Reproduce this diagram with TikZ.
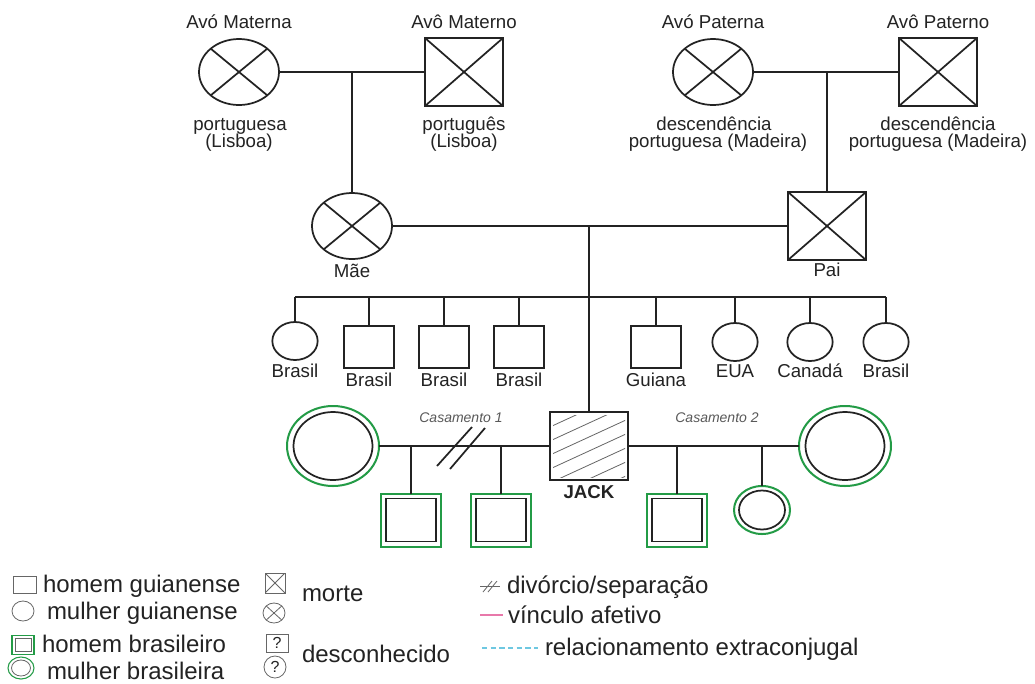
\documentclass[tikz,border=0pt]{standalone}
\usepackage{fontspec}
\setmainfont{Liberation Sans}
\usetikzlibrary{shapes.geometric,calc}
\definecolor{grn}{RGB}{35,155,70}
\definecolor{pinkl}{RGB}{232,120,170}
\definecolor{cyanl}{RGB}{110,200,225}
\definecolor{ink}{RGB}{35,35,35}
\begin{document}
\begin{tikzpicture}[x=0.75pt,y=-0.75pt,
  every node/.style={inner sep=0pt, outer sep=0pt, text=ink},
  lbl/.style={font=\fontsize{14}{16}\selectfont, anchor=base},
  leg/.style={font=\fontsize{18}{20}\selectfont, anchor=base west},
  cas/.style={font=\fontsize{10.5}{12}\selectfont\itshape, text=black!65, anchor=base},
  ln/.style={draw=ink, line width=1.3pt},
  thin/.style={draw=black!60, line width=0.6pt},
  bigF/.style={ellipse, ln, minimum width=60pt, minimum height=49.5pt},
  bigM/.style={rectangle, ln, minimum width=58.5pt, minimum height=51pt},
  smF/.style={ellipse, ln, minimum width=34pt, minimum height=28.5pt},
  smM/.style={rectangle, ln, minimum width=37.5pt, minimum height=31.5pt},
  dead/.style={path picture={\draw[ink,line width=1.3pt]
     (path picture bounding box.north west) -- (path picture bounding box.south east)
     (path picture bounding box.north east) -- (path picture bounding box.south west);}},
  thindead/.style={path picture={\draw[black!60,line width=0.6pt]
     (path picture bounding box.north west) -- (path picture bounding box.south east)
     (path picture bounding box.north east) -- (path picture bounding box.south west);}},
  bwO/.style={ellipse, draw=grn, line width=1.5pt, minimum width=69pt, minimum height=60pt},
  bwI/.style={ellipse, ln, minimum width=59.25pt, minimum height=51pt},
  bmO/.style={rectangle, draw=grn, line width=1.5pt, minimum width=45pt, minimum height=39.75pt},
  bmI/.style={rectangle, ln, minimum width=37.5pt, minimum height=32.25pt},
  bdO/.style={ellipse, draw=grn, line width=1.5pt, minimum width=42pt, minimum height=36pt},
  bdI/.style={ellipse, ln, minimum width=34.5pt, minimum height=29.25pt}
]
\fill[white] (0,0) rectangle (1035,683);
\useasboundingbox (0,0) rectangle (1035,683);

% grandparents
\node[bigF,dead] (avoMa) at (239,72) {};
\node[bigM,dead] (avoMo) at (464,72) {};
\node[bigF,dead] (avoPa) at (713,72) {};
\node[bigM,dead] (avoPo) at (938,72) {};
\node[lbl] (tAvoMa) at (239,28) {Avó Materna};
\node[lbl] (tAvoMo) at (464,28) {Avô Materno};
\node[lbl] (tAvoPa) at (713,28) {Avó Paterna};
\node[lbl] (tAvoPo) at (938,28) {Avô Paterno};
\node[lbl] (oAvoMa1) at (240,130) {portuguesa};
\node[lbl] (oAvoMa2) at (239,147) {(Lisboa)};
\node[lbl] (oAvoMo1) at (464,130) {português};
\node[lbl] (oAvoMo2) at (464,147) {(Lisboa)};
\node[lbl] (oAvoPa1) at (714,130) {descendência};
\node[lbl] (oAvoPa2) at (718,147) {portuguesa (Madeira)};
\node[lbl] (oAvoPo1) at (938,130) {descendência};
\node[lbl] (oAvoPo2) at (938,147) {portuguesa (Madeira)};

% parents
\node[bigF,dead] (mae) at (352,226) {};
\node[bigM,dead] (pai) at (827,226) {};
\node[lbl] (tMae) at (352,277) {Mãe};
\node[lbl] (tPai) at (827,276) {Pai};

\draw[ln] (avoMa) -- (avoMo);
\coordinate (jm) at (352,72);
\draw[ln] (jm) -- (mae);
\draw[ln] (avoPa) -- (avoPo);
\coordinate (jp) at (827,72);
\draw[ln] (jp) -- (pai);

% siblings
\node[smF] (s1) at (295,341) {};
\node[smM] (s2) at (369,347) {};
\node[smM] (s3) at (444,347) {};
\node[smM] (s4) at (519,347) {};
\node[smM] (s5) at (656,347) {};
\node[smF] (s6) at (735,342) {};
\node[smF] (s7) at (810,342) {};
\node[smF] (s8) at (886,342) {};
\node[lbl] (t1) at (295,377) {Brasil};
\node[lbl] (t2) at (369,386) {Brasil};
\node[lbl] (t3) at (444,386) {Brasil};
\node[lbl] (t4) at (519,386) {Brasil};
\node[lbl] (t5) at (656,386) {Guiana};
\node[lbl] (t6) at (735,377) {EUA};
\node[lbl] (t7) at (810,377) {Canadá};
\node[lbl] (t8) at (886,377) {Brasil};

% Jack
\node[bigM] (jack) at (589,446) {};
\begin{scope}
  \clip ($(jack.south west)+(3,-3)$) rectangle ($(jack.north east)+(-3,3)$);
  \foreach \k in {-5,...,6}
    \draw[black!60, line width=0.6pt] ($(jack.center)+(-50,\k*14)$) -- ++(100,-46);
\end{scope}
\node[lbl, font=\fontsize{14}{16}\selectfont\bfseries] (tJack) at (589,498) {JACK};

\draw[ln] (mae) -- (pai);
\coordinate (jc) at (589,226);
\draw[ln] (jc) -- (jack);
\coordinate (sbL) at (295,297);
\coordinate (sbR) at (886,297);
\draw[ln] (sbL) -- (sbR);
\foreach \s in {s1,s2,s3,s4,s5,s6,s7,s8}
  \draw[ln] (\s |- sbL) -- (\s);

% wives and children
\node[bwO] (w1) at (333,446) {};
\node[bwI] (w1i) at (333,446) {};
\node[bwO] (w2) at (845,446) {};
\node[bwI] (w2i) at (845,446) {};
\node[bmO] (c1) at (411,520) {};
\node[bmI] (c1i) at (411,520) {};
\node[bmO] (c2) at (501,520) {};
\node[bmI] (c2i) at (501,520) {};
\node[bmO] (c3) at (677,520) {};
\node[bmI] (c3i) at (677,520) {};
\node[bdO] (d1) at (762,510) {};
\node[bdI] (d1i) at (762,510) {};

\draw[ln] (w1) -- (jack);
\draw[ln] (jack) -- (w2);
\draw[ln] (c1 |- jack) -- (c1);
\draw[ln] (c2 |- jack) -- (c2);
\draw[ln] (c3 |- jack) -- (c3);
\draw[ln] (d1 |- jack) -- (d1);

\coordinate (dv) at (461,447);
\draw[ln] ($(dv)+(-24,19)$) -- ($(dv)+(11,-20)$);
\draw[ln] ($(dv)+(-11,22)$) -- ($(dv)+(24,-19)$);

\node[cas] (cas1) at (461,422) {Casamento 1};
\node[cas] (cas2) at (717,422) {Casamento 2};

% legend
\node[thin, minimum width=17.25pt, minimum height=12.75pt] (lgM) at (24.5,585) {};
\node[leg] (lgMt) at (43,592) {homem guianense};
\node[thin, ellipse, minimum width=16.5pt, minimum height=15pt] (lgF) at (23,611) {};
\node[leg] (lgFt) at (47,619) {mulher guianense};
\node[draw=grn, line width=0.8pt, minimum width=16.5pt, minimum height=14.25pt] (lgBM) at (23,645) {};
\node[thin, minimum width=12pt, minimum height=9.75pt] (lgBMi) at (23,645) {};
\node[leg] (lgBMt) at (42,652) {homem brasileiro};
\node[ellipse, draw=grn, line width=0.8pt, minimum width=19.5pt, minimum height=16.5pt] (lgBF) at (21,668) {};
\node[thin, ellipse, minimum width=14.25pt, minimum height=12pt] (lgBFi) at (21,668) {};
\node[leg] (lgBFt) at (47,679) {mulher brasileira};

\node[thin, thindead, minimum width=15pt, minimum height=15pt] (lgDM) at (275,583) {};
\node[thin, thindead, ellipse, minimum width=16.5pt, minimum height=15pt] (lgDF) at (274,613) {};
\node[leg] (lgDt) at (302,601) {morte};
\node[thin, minimum width=16.5pt, minimum height=13.5pt, font=\fontsize{12}{12}\selectfont] (lgUM) at (277,643) {?};
\node[thin, circle, minimum size=16.5pt, font=\fontsize{12}{12}\selectfont] (lgUF) at (275,667) {?};
\node[leg] (lgUt) at (302,662) {desconhecido};

\coordinate (lgD1) at (480,586);
\coordinate (lgD2) at (500,586);
\draw[thin] (lgD1) -- (lgD2);
\draw[thin] (483,592) -- (492,581);
\draw[thin] (488,592) -- (497,581);
\node[leg] (lgDvt) at (507,593) {divórcio/separação};
\coordinate (lgP1) at (480,615);
\coordinate (lgP2) at (503,615);
\draw[pinkl, line width=1pt] (lgP1) -- (lgP2);
\node[leg] (lgPt) at (508,623) {vínculo afetivo};
\coordinate (lgC1) at (482,648);
\coordinate (lgC2) at (538,648);
\draw[cyanl, line width=1pt, dash pattern=on 4pt off 2.5pt] (lgC1) -- (lgC2);
\node[leg] (lgCt) at (545,655) {relacionamento extraconjugal};
\end{tikzpicture}
\end{document}
